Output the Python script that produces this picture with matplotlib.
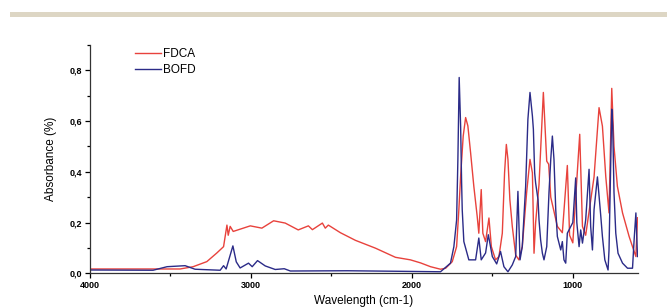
import matplotlib
matplotlib.use("Agg")
import matplotlib.pyplot as plt
from matplotlib.ticker import MultipleLocator, FuncFormatter
from matplotlib.patches import Rectangle

plt.rcParams['font.family'] = ['Liberation Sans', 'DejaVu Sans']

# FDCA spectrum (wavenumber cm-1, absorbance)
fdca_wn = [4000, 3440, 3359, 3274, 3212, 3170, 3149, 3141, 3129, 3110,
           3004, 2932, 2859, 2787, 2706, 2643, 2618, 2556, 2538, 2519,
           2444, 2351, 2226, 2102, 2009, 1946, 1884, 1822, 1790, 1749,
           1722, 1708, 1697, 1681, 1666, 1652, 1635, 1615, 1594, 1584,
           1569, 1559, 1542, 1521, 1506, 1480, 1459, 1438, 1424, 1413,
           1403, 1391, 1376, 1355, 1335, 1314, 1287, 1266, 1251, 1241,
           1231, 1210, 1183, 1162, 1150, 1137, 1096, 1065, 1034, 1020,
           1000, 957, 940, 920, 868, 837, 816, 795, 775, 758,
           744, 723, 691, 650, 629, 608, 598]
fdca_abs = [0.017, 0.017, 0.026, 0.046, 0.080, 0.105, 0.190, 0.150, 0.185, 0.165,
            0.187, 0.178, 0.207, 0.198, 0.171, 0.187, 0.172, 0.198, 0.178, 0.190,
            0.160, 0.130, 0.099, 0.063, 0.053, 0.041, 0.026, 0.016, 0.020, 0.046,
            0.105, 0.250, 0.383, 0.541, 0.614, 0.581, 0.475, 0.343, 0.224, 0.158,
            0.330, 0.158, 0.125, 0.218, 0.105, 0.053, 0.066, 0.158, 0.396, 0.508,
            0.449, 0.290, 0.185, 0.072, 0.053, 0.105, 0.317, 0.449, 0.396, 0.079,
            0.200, 0.350, 0.713, 0.442, 0.430, 0.300, 0.185, 0.160, 0.425, 0.150,
            0.120, 0.548, 0.185, 0.150, 0.380, 0.653, 0.580, 0.380, 0.238, 0.729,
            0.500, 0.343, 0.238, 0.145, 0.105, 0.066, 0.219]

# BOFD spectrum
bofd_wn = [4000, 3608, 3521, 3409, 3347, 3191, 3170, 3154, 3112, 3091,
           3067, 3015, 2992, 2959, 2911, 2849, 2793, 2755, 2400, 2100,
           1822, 1760, 1739, 1722, 1714, 1706, 1697, 1691, 1687, 1677,
           1646, 1604, 1584, 1569, 1542, 1525, 1500, 1473, 1449, 1428,
           1403, 1376, 1355, 1341, 1328, 1314, 1293, 1279, 1266, 1251,
           1245, 1237, 1231, 1216, 1210, 1200, 1189, 1179, 1162, 1148,
           1137, 1127, 1117, 1106, 1096, 1075, 1065, 1055, 1044, 1034,
           1000, 982, 975, 961, 951, 940, 920, 899, 889, 878,
           868, 847, 826, 816, 801, 781, 775, 764, 758, 752,
           744, 733, 719, 691, 660, 629, 619, 608, 598]
bofd_abs = [0.013, 0.012, 0.026, 0.030, 0.016, 0.012, 0.030, 0.017, 0.108, 0.045,
            0.021, 0.040, 0.026, 0.050, 0.029, 0.015, 0.018, 0.009, 0.010, 0.008,
            0.006, 0.040, 0.105, 0.210, 0.450, 0.772, 0.580, 0.360, 0.250, 0.125,
            0.053, 0.053, 0.139, 0.053, 0.080, 0.152, 0.066, 0.037, 0.086, 0.026,
            0.006, 0.033, 0.066, 0.323, 0.053, 0.105, 0.343, 0.607, 0.713, 0.620,
            0.568, 0.396, 0.356, 0.290, 0.211, 0.132, 0.079, 0.053, 0.105, 0.318,
            0.449, 0.541, 0.449, 0.251, 0.145, 0.092, 0.125, 0.053, 0.040, 0.158,
            0.200, 0.376, 0.200, 0.105, 0.171, 0.119, 0.210, 0.410, 0.185, 0.092,
            0.251, 0.380, 0.224, 0.145, 0.053, 0.013, 0.092, 0.449, 0.647, 0.581,
            0.318, 0.158, 0.079, 0.040, 0.020, 0.020, 0.132, 0.238, 0.066]

fig = plt.figure(figsize=(6.67, 3.07), dpi=100)
fig.patches.append(Rectangle((0.015, 0.9446), 0.985, 0.0164, transform=fig.transFigure,
                             facecolor='#ddd6c4', edgecolor='none'))
ax = fig.add_axes([0.1349, 0.1098, 0.8216, 0.7436])

ax.plot(fdca_wn, fdca_abs, color='#e8423c', lw=1.0, label='FDCA')
ax.plot(bofd_wn, bofd_abs, color='#2b2b88', lw=1.0, label='BOFD')

ax.set_xlim(4000, 595)
ax.set_ylim(0, 0.9)
ax.spines['top'].set_visible(False)
ax.spines['right'].set_visible(False)
for s in ('left', 'bottom'):
    ax.spines[s].set_linewidth(0.9)
    ax.spines[s].set_color('#333333')

ax.xaxis.set_major_locator(MultipleLocator(1000))
ax.xaxis.set_minor_locator(MultipleLocator(500))
ax.yaxis.set_major_locator(MultipleLocator(0.2))
ax.yaxis.set_minor_locator(MultipleLocator(0.1))
ax.yaxis.set_major_formatter(FuncFormatter(lambda v, p: ('%.1f' % v).replace('.', ',')))
ax.tick_params(which='major', direction='out', length=3.5, width=0.9, labelsize=6.5, pad=2)
ax.tick_params(which='minor', direction='out', length=2, width=0.9)
for lab in ax.get_xticklabels() + ax.get_yticklabels():
    lab.set_fontweight('bold')

ax.set_xlabel('Wavelength (cm-1)', fontsize=8.5, labelpad=4)
ax.set_ylabel('Absorbance (%)', fontsize=8.5, labelpad=9)

ax.legend(loc='upper left', bbox_to_anchor=(0.082, 0.985), frameon=False, fontsize=8.5,
          handlelength=2.2, handletextpad=0.2, labelspacing=0.3, borderpad=0,
          borderaxespad=0)

fig.savefig('out.png', dpi=100)
